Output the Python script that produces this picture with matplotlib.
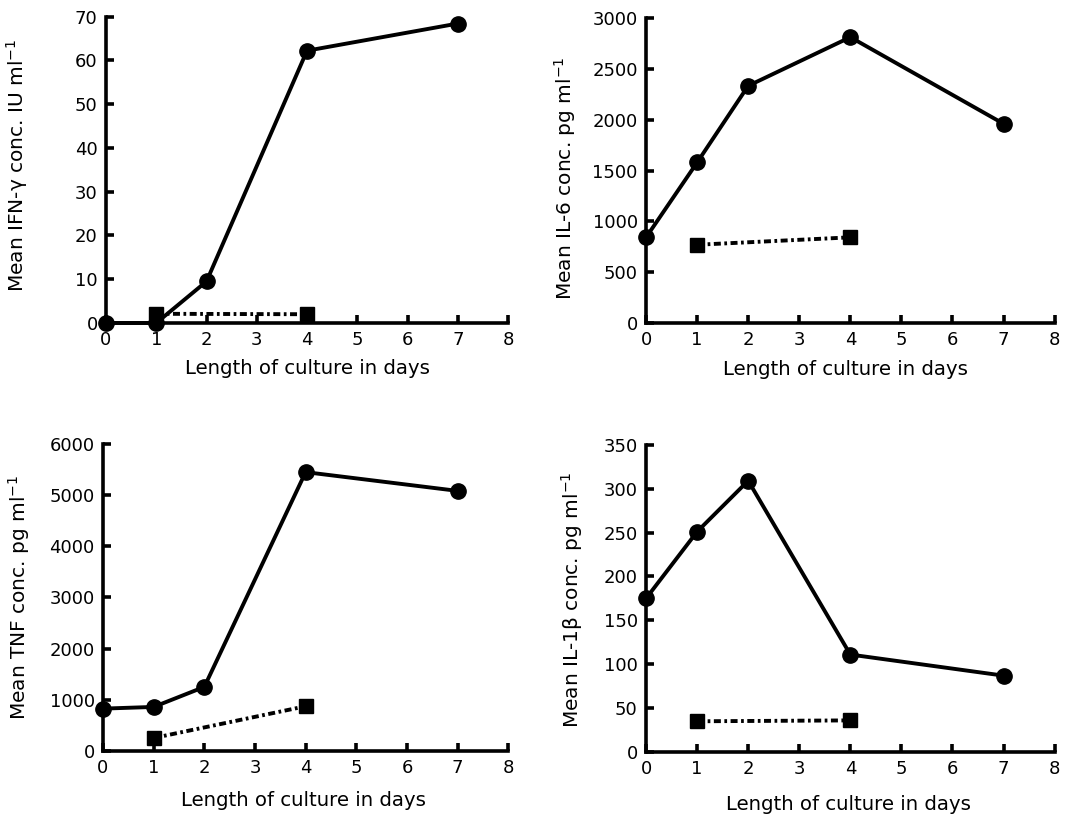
import matplotlib
matplotlib.use('Agg')
import matplotlib.pyplot as plt

plt.rcParams['font.family'] = ['DejaVu Sans']
plt.rcParams['mathtext.default'] = 'regular'

# data
days_cells = [0, 1, 2, 4, 7]
days_ctrl = [1, 4]

ifn_cells = [0, 0, 9.5, 62.2, 68.4]
ifn_ctrl = [2.1, 2.0]

il6_cells = [843, 1580, 2334, 2813, 1961]
il6_ctrl = [770, 843]

tnf_cells = [828, 861, 1252, 5446, 5080]
tnf_ctrl = [254, 874]

il1b_cells = [175, 251, 309, 111, 87]
il1b_ctrl = [35, 36]

xticks = [0, 1, 2, 3, 4, 5, 6, 7, 8]
xlabel = 'Length of culture in days'

panels = [
    # rect, cells, ctrl, ymax, ystep, ylabel, ylabel pos, xlabel pos
    ([0.0986, 0.6037, 0.374, 0.376], ifn_cells, ifn_ctrl, 70, 10,
     'Mean IFN-γ conc. IU ml$^{-1}$', (-0.189, 0.515), (0.50, -0.118)),
    ([0.601, 0.6037, 0.380, 0.374], il6_cells, il6_ctrl, 3000, 500,
     'Mean IL-6 conc. pg ml$^{-1}$', (-0.166, 0.475), (0.489, -0.122)),
    ([0.0958, 0.0785, 0.377, 0.377], tnf_cells, tnf_ctrl, 6000, 1000,
     'Mean TNF conc. pg ml$^{-1}$', (-0.175, 0.50), (0.494, -0.13)),
    ([0.601, 0.0773, 0.380, 0.377], il1b_cells, il1b_ctrl, 350, 50,
     'Mean IL-1β conc. pg ml$^{-1}$', (-0.149, 0.495), (0.496, -0.14)),
]

fig = plt.figure(figsize=(10.75, 8.15), dpi=100)

for rect, cells, ctrl, ymax, ystep, ylab, ypos, xpos in panels:
    ax = fig.add_axes(rect)
    ax.plot(days_cells, cells, color='black', lw=2.8, marker='o', ms=11,
            clip_on=False, zorder=3)
    ax.plot(days_ctrl, ctrl, color='black', lw=2.8, ls=(0, (1.8, 0.9, 0.7, 0.9)),
            marker='s', ms=10, clip_on=False, zorder=3)
    ax.set_xlim(0, 8)
    ax.set_ylim(0, ymax)
    ax.set_xticks(xticks)
    ax.set_yticks(list(range(0, ymax + 1, ystep)))
    for s in ['top', 'right']:
        ax.spines[s].set_visible(False)
    for s in ['left', 'bottom']:
        ax.spines[s].set_linewidth(2.6)
    ax.tick_params(direction='in', length=6, width=2.6, labelsize=13, pad=6)
    ax.set_xlabel(xlabel, fontsize=14.2)
    ax.set_ylabel(ylab, fontsize=14.5)
    ax.xaxis.set_label_coords(*xpos)
    ax.yaxis.set_label_coords(*ypos)

fig.savefig('out.png', dpi=100)
